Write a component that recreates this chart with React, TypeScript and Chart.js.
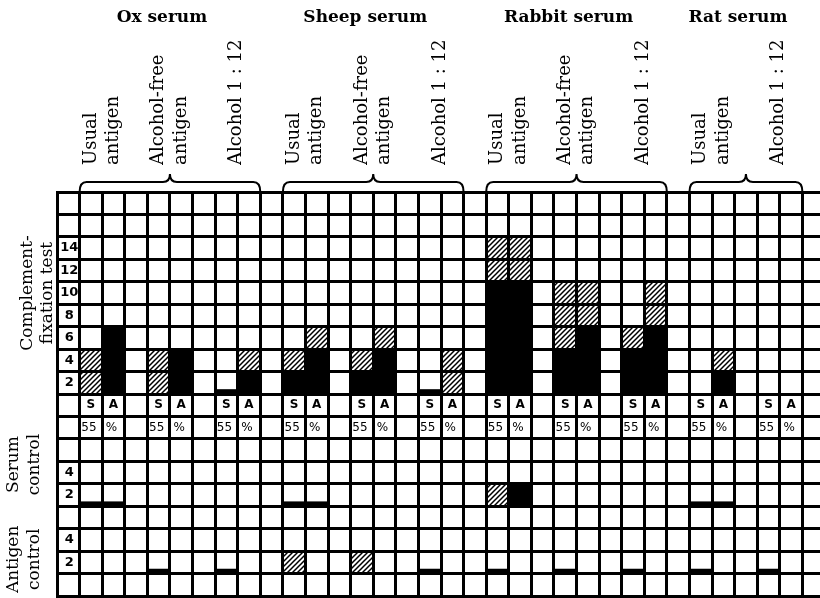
import React, { useEffect, useRef } from 'react';
import { Chart, registerables } from 'chart.js';

Chart.register(...registerables);

// ---------- data ----------
const seraNames = ['Ox serum', 'Sheep serum', 'Rabbit serum', 'Rat serum'];
const antigenNames = [['Usual', 'antigen'], ['Alcohol-free', 'antigen'], ['Alcohol 1 : 12']];
// every test = one (serum, antigen) pair, in left-to-right order
const testSerum = [0, 0, 0, 1, 1, 1, 2, 2, 2, 3, 3];
const testAntigen = [0, 1, 2, 0, 1, 2, 0, 1, 2, 0, 2];
const pairLabels = ['S', 'A'];
const concLabels = ['55', '%'];
const cfTicks = [14, 12, 10, 8, 6, 4, 2];
const controlTicks = [4, 2];
const sectionNames = [['Complement-', 'fixation test'], ['Serum', 'control'], ['Antigen', 'control']];

// Complement-fixation test: solid = complete fixation, hatched = partial (top value)
const cfSolidS = [0, 0, 0.4, 2, 2, 0.4, 10, 4, 4, 0, 0];
const cfHatchS = [4, 4, 0, 4, 4, 0, 14, 10, 6, 0, 0];
const cfSolidA = [6, 4, 2, 4, 4, 0, 10, 6, 6, 2, 0];
const cfHatchA = [6, 4, 4, 6, 6, 4, 14, 10, 10, 4, 0];

// Serum control
const serumSolidS = [0.4, 0, 0, 0.4, 0, 0, 0, 0, 0, 0.4, 0];
const serumHatchS = [0, 0, 0, 0, 0, 0, 2, 0, 0, 0, 0];
const serumSolidA = [0.4, 0, 0, 0.4, 0, 0, 2, 0, 0, 0.4, 0];
const serumHatchA = [0, 0, 0, 0, 0, 0, 0, 0, 0, 0, 0];

// Antigen control
const antigenSolidS = [0, 0.4, 0.4, 0, 0, 0.4, 0.4, 0.4, 0.4, 0.4, 0.4];
const antigenHatchS = [0, 0, 0, 2, 2, 0, 0, 0, 0, 0, 0];
const antigenSolidA = [0, 0, 0, 0, 0, 0, 0, 0, 0, 0, 0];
const antigenHatchA = [0, 0, 0, 0, 0, 0, 0, 0, 0, 0, 0];

// ---------- layout helpers ----------
const ROWS = 18;
const sectionBase = [9, 4, 1]; // baseline row (from bottom) of each section
const sectionSpan = [[9, 18], [4, 7], [0, 3]];

function testColumns(): number[] {
  const seen: number[] = [0, 0, 0, 0];
  return testSerum.map((s) => {
    const slot = seen[s]++;
    return 1 + 9 * s + 3 * slot;
  });
}
const cols = testColumns();
const nCols = Math.max(...cols) + 3;
const colLabels = Array.from({ length: nCols }, (_, i) => String(i));

const sections = [
  { sS: cfSolidS, hS: cfHatchS, sA: cfSolidA, hA: cfHatchA },
  { sS: serumSolidS, hS: serumHatchS, sA: serumSolidA, hA: serumHatchA },
  { sS: antigenSolidS, hS: antigenHatchS, sA: antigenSolidA, hA: antigenHatchA },
];

function buildData(k: number, kind: 'solid' | 'hatch') {
  const base = sectionBase[k];
  const sec = sections[k];
  const out: ([number, number] | null)[] = Array(nCols).fill(null);
  cols.forEach((c, t) => {
    [[sec.sS[t], sec.hS[t]], [sec.sA[t], sec.hA[t]]].forEach(([solid, hatch], j) => {
      if (kind === 'solid' && solid > 0) out[c + j] = [base, base + solid / 2];
      if (kind === 'hatch' && hatch > solid) out[c + j] = [base + solid / 2, base + hatch / 2];
    });
  });
  return out;
}

function makeHatch(): CanvasPattern | string {
  const c = document.createElement('canvas');
  c.width = 5;
  c.height = 5;
  const g = c.getContext('2d');
  if (!g) return '#555';
  g.fillStyle = '#fff';
  g.fillRect(0, 0, 5, 5);
  g.strokeStyle = '#000';
  g.lineWidth = 1.5;
  g.beginPath();
  g.moveTo(-1, 6); g.lineTo(6, -1);
  g.moveTo(-1, 1); g.lineTo(1, -1);
  g.moveTo(4, 6); g.lineTo(6, 4);
  g.stroke();
  return g.createPattern(c, 'repeat') || '#555';
}

const SERIF = '"DejaVu Serif", serif';
const SANS = '"DejaVu Sans", sans-serif';

const decorPlugin = {
  id: 'decor',
  afterDraw(chart: any) {
    const ctx: CanvasRenderingContext2D = chart.ctx;
    const xs = chart.scales.x;
    const ys = chart.scales.y;
    const colW = xs.getPixelForValue(1) - xs.getPixelForValue(0);
    const top = chart.chartArea.top;
    ctx.save();
    ctx.fillStyle = '#000';
    ctx.strokeStyle = '#000';

    // cell texts: tick values in first column
    ctx.font = `bold 13px ${SANS}`;
    ctx.textAlign = 'center';
    ctx.textBaseline = 'middle';
    const cx0 = xs.getPixelForValue(0) + 1;
    cfTicks.forEach((v) => ctx.fillText(String(v), cx0, ys.getPixelForValue(sectionBase[0] + (v - 1) / 2)));
    [1, 2].forEach((k) =>
      controlTicks.forEach((v) => ctx.fillText(String(v), cx0, ys.getPixelForValue(sectionBase[k] + (v - 1) / 2)))
    );
    // S / A and 55 %
    cols.forEach((c) => {
      ctx.font = `bold 12px ${SANS}`;
      pairLabels.forEach((l, j) => ctx.fillText(l, xs.getPixelForValue(c + j), ys.getPixelForValue(8.5)));
      ctx.font = `12px ${SANS}`;
      concLabels.forEach((l, j) => ctx.fillText(l, xs.getPixelForValue(c + j) - 2, ys.getPixelForValue(7.5)));
    });

    // serum titles and braces
    seraNames.forEach((name, s) => {
      const cs = cols.filter((_, t) => testSerum[t] === s);
      const x0 = xs.getPixelForValue(Math.min(...cs)) - colW / 2;
      const x1 = xs.getPixelForValue(Math.max(...cs) + 1) + colW / 2;
      const cx = (x0 + x1) / 2;
      ctx.font = `bold 17px ${SERIF}`;
      ctx.textAlign = 'center';
      ctx.textBaseline = 'middle';
      ctx.fillText(name, cx - 8, 18);
      // brace
      const yl = top - 10;
      const r = 7;
      ctx.lineWidth = 2;
      ctx.beginPath();
      ctx.moveTo(x0, top);
      ctx.quadraticCurveTo(x0, yl, x0 + r, yl);
      ctx.lineTo(cx - r, yl);
      ctx.quadraticCurveTo(cx, yl, cx, yl - 8);
      ctx.quadraticCurveTo(cx, yl, cx + r, yl);
      ctx.lineTo(x1 - r, yl);
      ctx.quadraticCurveTo(x1, yl, x1, top);
      ctx.stroke();
    });

    // rotated antigen labels
    ctx.font = `18px ${SERIF}`;
    ctx.textAlign = 'left';
    ctx.textBaseline = 'middle';
    cols.forEach((c, t) => {
      const lines = antigenNames[testAntigen[t]];
      lines.forEach((line, i) => {
        const px = lines.length === 1 ? xs.getPixelForValue(c) + 0.45 * colW : xs.getPixelForValue(c + i);
        ctx.save();
        ctx.translate(px, 165);
        ctx.rotate(-Math.PI / 2);
        ctx.fillText(line, 0, 0);
        ctx.restore();
      });
    });

    // section labels on the left
    ctx.font = `17px ${SERIF}`;
    ctx.textAlign = 'center';
    const secX = [[28, 48], [14, 35], [14, 35]];
    const secYOff = [0, -8, -3];
    sectionNames.forEach((lines, k) => {
      const yc = (ys.getPixelForValue(sectionSpan[k][0]) + ys.getPixelForValue(sectionSpan[k][1])) / 2 + secYOff[k];
      lines.forEach((line, i) => {
        ctx.save();
        ctx.translate(secX[k][i], yc);
        ctx.rotate(-Math.PI / 2);
        ctx.fillText(line, 0, 0);
        ctx.restore();
      });
    });
    ctx.restore();
  },
};

export default function App() {
  const ref = useRef<HTMLCanvasElement>(null);
  useEffect(() => {
    const canvas = ref.current;
    if (!canvas) return;
    const hatch = makeHatch();
    const datasets: any[] = [];
    [0, 1, 2].forEach((k) => {
      datasets.push({ label: `solid${k}`, data: buildData(k, 'solid'), backgroundColor: '#000' });
      datasets.push({ label: `hatch${k}`, data: buildData(k, 'hatch'), backgroundColor: hatch });
    });
    datasets.forEach((d) => {
      d.grouped = false;
      d.barPercentage = 1;
      d.categoryPercentage = 1;
      d.borderWidth = 0;
      d.borderSkipped = false;
    });
    const chart = new Chart(canvas, {
      type: 'bar',
      data: { labels: colLabels, datasets },
      options: {
        animation: false,
        responsive: false,
        events: [],
        layout: { padding: { left: 57, top: 192, right: 5, bottom: 2 } },
        plugins: { legend: { display: false }, tooltip: { enabled: false } },
        scales: {
          x: {
            type: 'category',
            offset: true,
            grid: { offset: true, color: '#000', lineWidth: 3, drawTicks: false, z: 1 },
            border: { display: true, color: '#000', width: 3, z: 1 },
            ticks: { display: false, autoSkip: false },
          },
          y: {
            type: 'linear',
            min: 0,
            max: ROWS,
            grid: { color: '#000', lineWidth: 3, drawTicks: false, z: 1 },
            border: { display: true, color: '#000', width: 3, z: 1 },
            ticks: { display: false, stepSize: 1 },
          },
        },
      } as any,
      plugins: [decorPlugin],
    });
    return () => chart.destroy();
  }, []);
  return (
    <div
      style={{
        position: 'fixed',
        left: 0,
        top: 0,
        width: 820,
        height: 598,
        overflow: 'hidden',
        background: '#fff',
      }}
    >
      <canvas ref={ref} width={830} height={598} style={{ display: 'block', width: 830, height: 598 }} />
    </div>
  );
}
